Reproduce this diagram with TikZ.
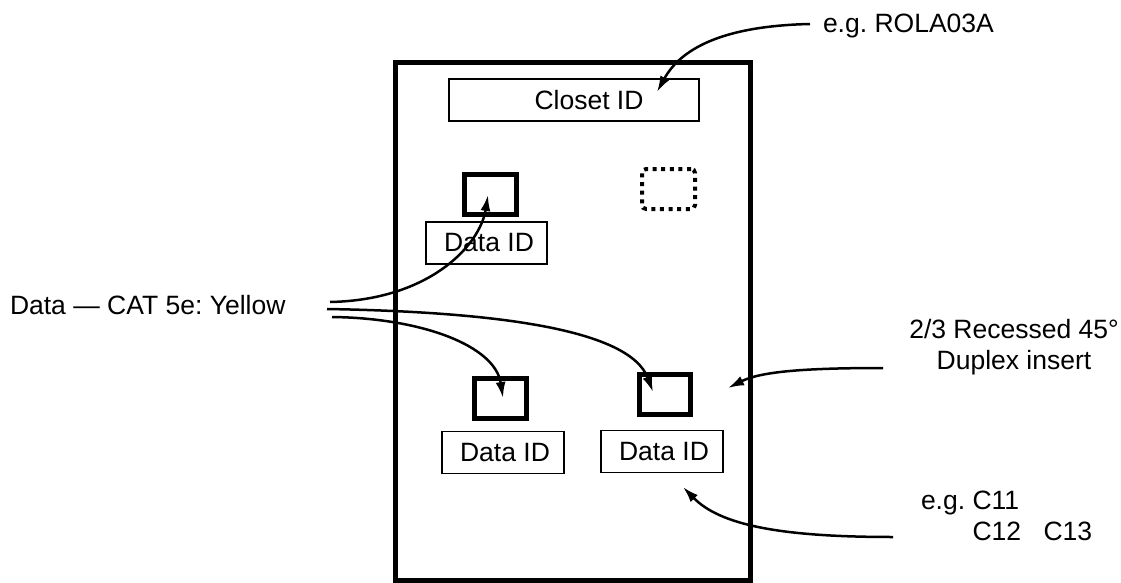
\documentclass[tikz,border=0pt]{standalone}
\usepackage{fontspec}
\setmainfont{Liberation Sans}
\usetikzlibrary{arrows.meta}
\begin{document}
\frenchspacing
\begin{tikzpicture}[x=1pt,y=-1pt,
  every node/.style={font=\fontsize{26.5}{31}\selectfont, inner sep=0pt, outer sep=0pt},
  idbox/.style={draw, line width=1.6pt, minimum width=122pt, minimum height=42pt},
  jack/.style={draw, line width=5pt, minimum width=52pt, minimum height=40pt},
  blank/.style={draw, line width=4pt, dash pattern=on 4pt off 4.6pt, rounded corners=4pt, minimum width=53pt, minimum height=40pt},
  lbl/.style={anchor=base west},
  conn/.style={line width=2.5pt, -{Latex[length=16pt,width=10pt]}}
]
\useasboundingbox (0,0) rectangle (1121,583);
% plate
\node[draw, line width=5pt, minimum width=355pt, minimum height=517pt, anchor=north west] (plate) at (395,63) {};
% closet label
\node[draw, line width=1.6pt, minimum width=250pt, minimum height=42pt,
      label={[xshift=15pt]center:Closet ID}] (closet) at (574,100) {};
% jacks and labels
\node[jack] (j1) at (490.5,194.5) {};
\node[idbox, minimum width=121pt] (d1) at (486.5,243) {\hspace{5pt}Data ID};
\node[blank] (blank) at (668.5,189) {};
\node[jack] (j2) at (500.5,398.5) {};
\node[idbox] (d2) at (503,452.5) {\hspace{4pt}Data ID};
\node[jack, minimum width=51pt] (j3) at (665,394.5) {};
\node[idbox] (d3) at (662,451.5) {\hspace{4pt}Data ID};
% outside texts
\node[lbl] (data) at (10,314) {Data — CAT 5e: Yellow};
\node[lbl] (eg) at (823,33) {e.g. ROLA03A};
\node[align=center, anchor=base] (duplex) at (1014,369) {2/3 Recessed 45°\\Duplex insert};
\node[align=left, anchor=base west] (cnum) at (921,540) {e.g. C11\\\phantom{e.g. }C12\hspace{22.4pt}C13};
% connector ends
\coordinate (s0) at (810,24);
\coordinate (t0) at (657,92);
\coordinate (s1) at (330,302);
\coordinate (t1) at (488,195);
\coordinate (s2) at (327,309);
\coordinate (t2) at (653,392);
\coordinate (s3) at (332,317);
\coordinate (t3) at (503,398);
\coordinate (s4) at (883,368);
\coordinate (t4) at (728,388);
\coordinate (s5) at (893,537);
\coordinate (t5) at (683,487);
% connectors
\draw[conn] (s0) .. controls (720,26) and (680,50) .. (t0);
\draw[conn] (s1) .. controls (430,300) and (480,245) .. (t1);
\draw[conn] (s2) .. controls (500,312) and (630,330) .. (t2);
\draw[conn] (s3) .. controls (420,318) and (495,345) .. (t3);
\draw[conn] (s4) .. controls (800,368) and (760,372) .. (t4);
\draw[conn] (s5) .. controls (780,537) and (720,525) .. (t5);
\end{tikzpicture}
\end{document}
